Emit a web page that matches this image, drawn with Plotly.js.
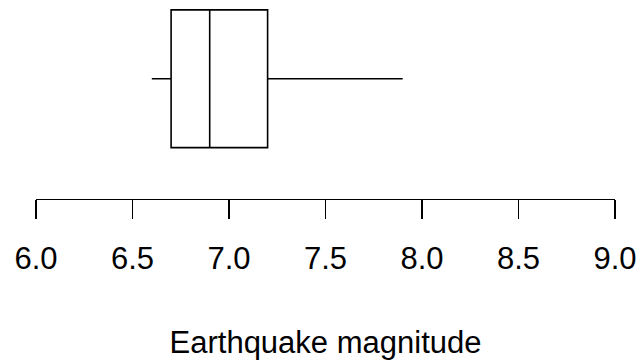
<!DOCTYPE html>
<html>
<head>
<meta charset="utf-8">
<script src="https://cdn.plot.ly/plotly-3.0.1.min.js"></script>
<style>html,body{margin:0;padding:0;background:#fff;}#chart{width:640px;height:360px;}</style>
</head>
<body>
<div id="chart"></div>
<script>
const lowerWhisker = [6.6];
const q1 = [6.7];
const median = [6.9];
const q3 = [7.2];
const upperWhisker = [7.9];
const tickValues = [6.0, 6.5, 7.0, 7.5, 8.0, 8.5, 9.0];
const tickLabels = ["6.0", "6.5", "7.0", "7.5", "8.0", "8.5", "9.0"];
const xTitle = "Earthquake magnitude";

const trace = {
  type: "box",
  orientation: "h",
  y: [0],
  q1: q1,
  median: median,
  q3: q3,
  lowerfence: lowerWhisker,
  upperfence: upperWhisker,
  width: 1,
  whiskerwidth: 0,
  fillcolor: "rgba(0,0,0,0)",
  line: {color: "#000", width: 1.6},
  hoverinfo: "skip",
  showlegend: false
};

const layout = {
  width: 640, height: 360,
  margin: {l: 36, r: 25, t: 0, b: 161, pad: 0},
  paper_bgcolor: "#fff", plot_bgcolor: "#fff",
  font: {family: "Liberation Sans, Arial, sans-serif", color: "#000", size: 31},
  showlegend: false,
  xaxis: {
    range: [6, 9],
    tickvals: tickValues,
    ticktext: tickLabels,
    ticks: "outside", ticklen: 19, tickwidth: 1.2, tickcolor: "#000",
    showline: true, linecolor: "#000", linewidth: 1.2,
    showgrid: false, zeroline: false,
    tickfont: {size: 31, color: "#000"},
    ticklabelstandoff: 13,
    title: {text: xTitle, font: {size: 31, color: "#000"}, standoff: 55},
    automargin: false,
    fixedrange: true
  },
  yaxis: {
    range: [-0.873, 0.572],
    visible: false,
    showgrid: false, zeroline: false,
    fixedrange: true
  }
};

Plotly.newPlot("chart", [trace], layout, {displayModeBar: false, staticPlot: true});
</script>
</body>
</html>
